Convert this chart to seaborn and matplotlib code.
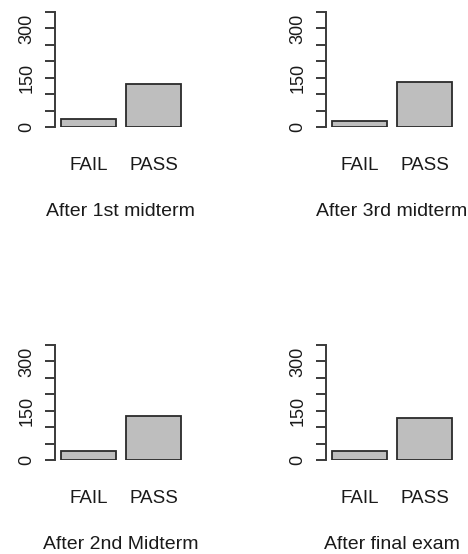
import numpy as np
import pandas as pd
import matplotlib
matplotlib.use("Agg")
import matplotlib.pyplot as plt
import seaborn as sns

# --- Data (counts) ---
categories = ["FAIL", "PASS"]
titles = ["After 1st midterm", "After 3rd midterm", "After 2nd Midterm", "After final exam"]
fail_counts = [23, 17, 28, 27]
pass_counts = [131, 137, 134, 128]
y_ticks = [0, 50, 100, 150, 200, 250, 300, 350]
y_tick_labels = ["0", "", "", "150", "", "", "300", ""]

sns.set_theme(style="white")
plt.rcParams["font.family"] = ["Liberation Sans", "DejaVu Sans"]
plt.rcParams["text.color"] = "#1a1a1a"

W, H = 468, 554
fig = plt.figure(figsize=(W / 100, H / 100), dpi=100)
fig.patch.set_facecolor("white")

# panel boxes in pixels: left, top, width, height
boxes = [(55, 12, 131, 115), (326, 12, 131, 115),
         (55, 345, 131, 115), (326, 345, 131, 115)]

for i, (left, top, w, h) in enumerate(boxes):
    ax = fig.add_axes([left / W, 1 - (top + h) / H, w / W, h / H])
    df = pd.DataFrame({"result": categories, "count": [fail_counts[i], pass_counts[i]]})
    sns.barplot(data=df, x="result", y="count", ax=ax, color="#bebebe",
                saturation=1, width=0.846, edgecolor="#2a2a2a", linewidth=1.3)
    ax.set_xlim(-0.515, 1.5)
    ax.set_ylim(0, 350)
    ax.set_facecolor("white")
    for s in ["top", "right", "bottom"]:
        ax.spines[s].set_visible(False)
    ax.spines["left"].set_color("#3a3a3a")
    ax.spines["left"].set_linewidth(1.4)
    ax.spines["left"].set_bounds(0, 350)

    ax.set_yticks(y_ticks)
    ax.set_yticklabels(y_tick_labels)
    ax.tick_params(axis="y", left=True, length=7.2, width=1.4, color="#3a3a3a",
                   pad=7, labelsize=13, labelcolor="#1a1a1a", labelrotation=90)
    for lab in ax.get_yticklabels():
        lab.set_va("center")

    ax.tick_params(axis="x", bottom=False, length=0, pad=21.5, labelsize=13.5,
                   labelcolor="#1a1a1a")
    ax.set_ylabel("")
    ax.set_xlabel(titles[i], fontsize=14, color="#1a1a1a")
    ax.xaxis.set_label_coords(0.5, -0.66)
    ax.xaxis.label.set_va("top")

fig.savefig("out.png", dpi=100, facecolor="white")
